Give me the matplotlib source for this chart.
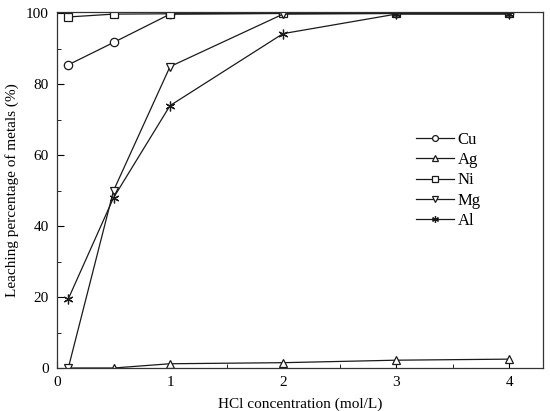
import numpy as np
import matplotlib
matplotlib.use("Agg")
import matplotlib.pyplot as plt
from matplotlib.ticker import MultipleLocator

plt.rcParams['font.family'] = ['Liberation Serif', 'DejaVu Serif']

# HCl concentration (mol/L)
hcl = [0.1, 0.5, 1, 2, 3, 4]

# leaching percentage (%)
cu = [85.5, 91.8, 99.8, 100, 100, 100]
ag = [0.0, 0.0, 1.2, 1.5, 2.2, 2.5]
ni = [99.0, 99.8, 99.9, 100, 100, 100]
mg = [0.0, 50.0, 85.0, 99.8, 100, 100]
al = [19.5, 48.0, 74.0, 94.3, 99.8, 99.8]

fig = plt.figure(figsize=(5.5, 4.11), dpi=100)
ax = fig.add_axes([57/550, 1 - 368/411, (543-57)/550, (368-12)/411])

lc = '#1a1a1a'
kw = dict(color=lc, lw=0.9, mfc='white', mec=lc, mew=0.9, ms=6)
ax.plot(hcl, cu, marker='o', label='Cu', **kw)
ax.plot(hcl, ag, marker='^', label='Ag', **kw)
ax.plot(hcl, ni, marker='s', label='Ni', **kw)
ax.plot(hcl, mg, marker='v', label='Mg', **kw)
ax.plot(hcl, al, marker=(6, 2, 0), label='Al', color=lc, lw=0.9, mec=lc, mew=0.9, ms=7)

ax.set_xlim(0, 4.3)
ax.set_ylim(0, 100.4)
ax.xaxis.set_major_locator(MultipleLocator(1))
ax.xaxis.set_minor_locator(MultipleLocator(0.5))
ax.yaxis.set_major_locator(MultipleLocator(20))
ax.yaxis.set_minor_locator(MultipleLocator(10))
ax.tick_params(which='both', direction='in', top=False, right=False, labelsize=11)
ax.tick_params(which='major', length=5, pad=6)
ax.tick_params(which='minor', length=3)
for s in ax.spines.values():
    s.set_linewidth(0.9)
    s.set_color('#333333')

ax.set_xlabel('HCl concentration (mol/L)', fontsize=11, labelpad=6)
ax.set_ylabel('Leaching percentage of metals (%)', fontsize=11, labelpad=5)

leg = ax.legend(loc='upper left', bbox_to_anchor=(0.708, 0.705), frameon=False,
                fontsize=12, markerscale=0.7, handlelength=2.3, handletextpad=0.2,
                labelspacing=0.25)

fig.savefig('out.png', dpi=100)
